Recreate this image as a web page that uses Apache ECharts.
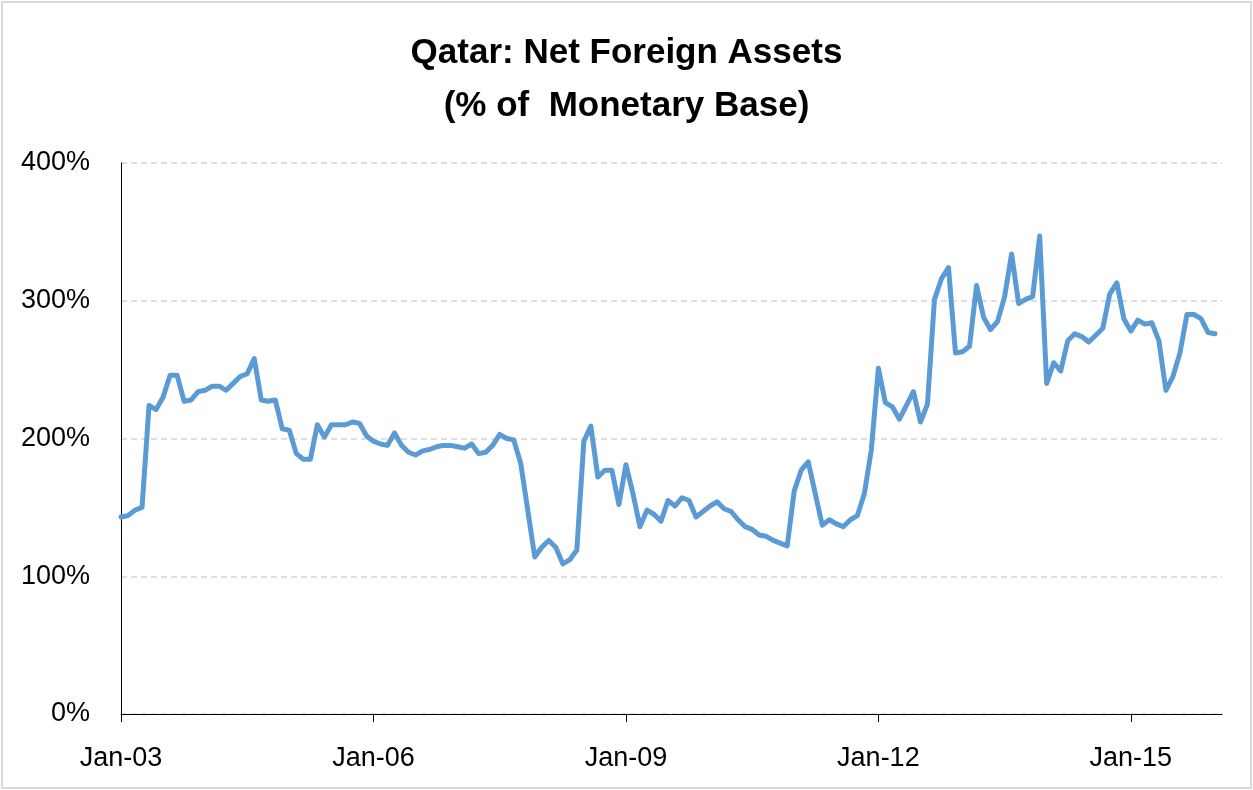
<!DOCTYPE html>
<html>
<head>
<meta charset="utf-8">
<script src="https://cdn.jsdelivr.net/npm/echarts@6/dist/echarts.min.js"></script>
<style>
html,body{margin:0;padding:0;background:#fff;}
#chart{width:1253px;height:790px;}
</style>
</head>
<body>
<div id="chart"></div>
<script>
// Monthly series, Jan-03 .. Jan-16 (axis runs one month further, to Feb-16)
const startYear = 2003;
const monthNames = ['Jan','Feb','Mar','Apr','May','Jun','Jul','Aug','Sep','Oct','Nov','Dec'];
const values = [
  143,144,148,150,224,221,230,246,246,227,228,234,
  235,238,238,235,240,245,247,258,228,227,228,207,
  206,189,185,185,210,201,210,210,210,212,211,202,
  198,196,195,204,195,190,188,191,192,194,195,195,
  194,193,196,189,190,195,203,200,199,182,148,114,
  121,126,121,109,112,119,198,209,172,177,177,152,
  181,160,136,148,145,140,155,151,157,155,143,147,
  151,154,149,147,141,136,134,130,129,126,124,122,
  162,177,183,160,137,141,138,136,141,144,160,192,
  251,226,223,214,224,234,212,225,301,316,324,262,
  263,267,311,288,279,285,303,334,298,301,303,347,
  240,255,249,271,276,274,270,275,280,305,313,287,
  278,286,283,284,271,235,245,262,290,290,287,277,
  276
];
const axisMonths = values.length + 1; // axis extends to Feb-16
const categories = Array.from({length: axisMonths}, (_, i) => {
  const y = startYear + Math.floor(i / 12);
  return monthNames[i % 12] + '-' + String(y % 100).padStart(2, '0');
});
const seriesData = categories.map((c, i) => (i < values.length ? values[i] : null));
const yTicks = [0, 100, 200, 300, 400];
const titleText = 'Qatar: Net Foreign Assets\n(% of  Monetary Base)';

const chart = echarts.init(document.getElementById('chart'), null, {renderer: 'canvas'});
const FONT = '"Liberation Sans", Arial, sans-serif';
chart.setOption({
  animation: false,
  backgroundColor: '#fff',
  title: {
    text: titleText,
    left: 'center',
    top: 22,
    textStyle: {fontFamily: FONT, fontWeight: 'bold', fontSize: 35, lineHeight: 53, color: '#000'}
  },
  grid: {left: 121, right: 31, top: 163, bottom: 76, containLabel: false},
  xAxis: {
    type: 'category',
    data: categories,
    boundaryGap: false,
    axisLine: {show: true, lineStyle: {color: '#000', width: 1}},
    axisTick: {show: true, length: 8, lineStyle: {color: '#000'}, interval: (i) => i % 36 === 0},
    axisLabel: {
      interval: (i) => i % 36 === 0,
      margin: 31,
      fontFamily: FONT, fontSize: 27, color: '#000'
    },
    splitLine: {show: false}
  },
  yAxis: {
    type: 'value',
    min: yTicks[0],
    max: yTicks[yTicks.length - 1],
    interval: 100,
    axisLine: {show: true, lineStyle: {color: '#000', width: 1}},
    axisTick: {show: false},
    axisLabel: {formatter: '{value}%', margin: 31, fontFamily: FONT, fontSize: 27, color: '#000'},
    splitLine: {show: true, lineStyle: {color: '#d4d4d4', width: 1.5, type: [6, 4]}}
  },
  series: [{
    type: 'line',
    data: seriesData,
    showSymbol: false,
    smooth: false,
    connectNulls: false,
    lineStyle: {color: '#5B9BD5', width: 5, join: 'round', cap: 'round'},
    itemStyle: {color: '#5B9BD5'}
  }],
  graphic: [{
    type: 'rect',
    shape: {x: 2, y: 2, width: 1249, height: 786},
    style: {fill: 'none', stroke: '#d9d9d9', lineWidth: 2},
    silent: true
  }]
});
</script>
</body>
</html>
